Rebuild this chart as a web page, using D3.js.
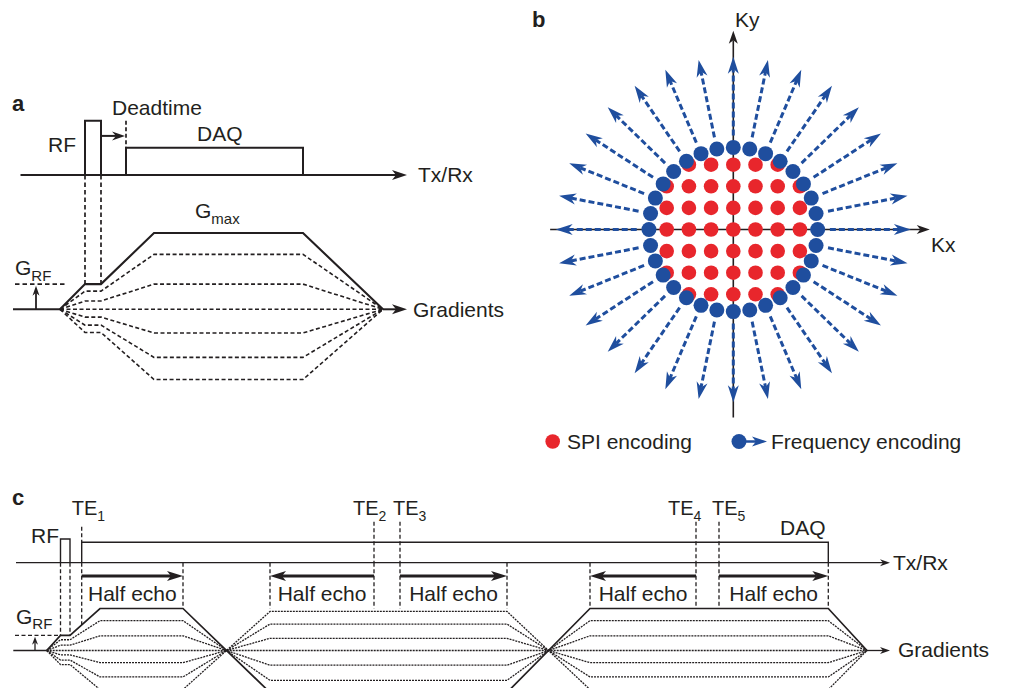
<!DOCTYPE html>
<head>
<meta charset="utf-8">
<style>
  body { margin: 0; background: #fff; }
  svg { display: block; font-family: "Liberation Sans", Arial, Helvetica, sans-serif; }
  text { fill: #231f20; font-size: 21px; }
  text.panel { font-weight: bold; font-size: 22px; }
</style>
</head>
<body>
<script src="https://d3js.org/d3.v7.min.js"></script>
<script>
var width = 1011, height = 688;
var ink = "#231f20", red = "#e8262c", blue = "#1f4e9e";

// ---- panel a: single echo sequence (time in arbitrary units, amplitude relative to Gmax)
var aLevels = [1, 0.72, 0.33, 0, -0.31, -0.63, -0.92];
var aGradT = [0, 25, 41, 94, 243, 323];
var aGradAmp = [0, 0.33, 0.33, 1, 1, 0];
var aRF = [25, 41];
var aDAQ = [66, 243];
var aDeadtime = [41, 65];

// ---- panel b: k-space (grid units)
var spiGrid = [
  [3, [-2, -1, 0, 1, 2]],
  [2, [-3, -2, -1, 0, 1, 2, 3]],
  [1, [-3, -2, -1, 0, 1, 2, 3]],
  [0, [-3, -2, -1, 0, 1, 2, 3]],
  [-1, [-3, -2, -1, 0, 1, 2, 3]],
  [-2, [-3, -2, -1, 0, 1, 2, 3]],
  [-3, [-2, -1, 0, 1, 2]]
];
var spokeAngles = [0, 11.25, 22.5, 33.75, 45, 56.25, 67.5, 78.75, 90, 101.25, 112.5, 123.75,
  135, 146.25, 157.5, 168.75, 180, 191.25, 202.5, 213.75, 225, 236.25, 247.5, 258.75,
  270, 281.25, 292.5, 303.75, 315, 326.25, 337.5, 348.75];
var ringRadius = 3.8, spokeStart = 4.35, spokeEnd = 8;

// ---- panel c: multi-echo sequence
var cLevels = [1, 0.71, 0.35, 0, -0.29, -0.63, -0.93];
var cGradT = [0, 13.8, 23.3, 53.3, 136.3, 223.3, 460.3, 543.3, 781.6, 820.3];
var cGradAmp = [0, 0.36, 0.36, 1, 1, -1, -1, 1, 1, 0];
var cRF = [13.8, 23.3];
var cDAQ = [35, 781.6];
var teTimes = [35, 327.3, 353.3, 649.3, 672.3];
var teNames = ["1", "2", "3", "4", "5"];
var teLabelDx = [-10, -21, -7, -28, -7];
var halfEcho = [[35, 136.3], [327.3, 223.3], [353.3, 460.3], [649.3, 543.3], [672.3, 781.6]];
var cEdges = [136.3, 223.3, 460.3, 543.3, 781.6];

var svg = d3.select("body").append("svg").attr("width", width).attr("height", height);

function arrow(g, x1, y1, x2, y2, o) {
  var len = o.len, hw = o.hw, notch = o.notch;
  var a = Math.atan2(y2 - y1, x2 - x1);
  var back = len - notch;
  g.append("line")
    .attr("x1", x1).attr("y1", y1)
    .attr("x2", x2 - Math.cos(a) * back).attr("y2", y2 - Math.sin(a) * back)
    .attr("stroke", o.color).attr("stroke-width", o.width)
    .attr("stroke-dasharray", o.dash || null);
  g.append("path")
    .attr("d", "M0,0L" + (-len) + "," + (-hw) + "L" + (-len + notch) + ",0L" + (-len) + "," + hw + "Z")
    .attr("transform", "translate(" + x2 + "," + y2 + ") rotate(" + (a * 180 / Math.PI) + ")")
    .attr("fill", o.color);
}

function subText(g, x, y, main, sub, size, subSize) {
  var t = g.append("text").attr("x", x).attr("y", y).style("font-size", size + "px");
  t.append("tspan").text(main);
  t.append("tspan").attr("dy", size * 0.28).style("font-size", subSize + "px").text(sub);
  return t;
}

function vline(g, x, y1, y2, dash, w) {
  g.append("line").attr("x1", x).attr("x2", x).attr("y1", y1).attr("y2", y2)
    .attr("stroke", ink).attr("stroke-width", w).attr("stroke-dasharray", dash);
}

// ================= panel a =================
var ga = svg.append("g");
var xA = d3.scaleLinear().domain([0, 323]).range([60, 383]);
var yA = d3.scaleLinear().domain([0, 1]).range([309.3, 233]);
var txA = d3.scaleLinear().domain([0, 1]).range([175, 120.7]);
var ampA = d3.scaleLinear().domain(aGradT).range(aGradAmp);

ga.append("text").attr("class", "panel").attr("x", 12).attr("y", 111).text("a");

// Tx/Rx axis
arrow(ga, xA(-39.5), txA(0), xA(347), txA(0), {len: 15, hw: 5, notch: 4, color: ink, width: 2});
ga.append("text").attr("x", 418).attr("y", 182).text("Tx/Rx");

// RF pulse and DAQ window
ga.append("path")
  .attr("d", "M" + xA(aRF[0]) + "," + txA(0) + "V" + txA(1) + "H" + xA(aRF[1]) + "V" + txA(0))
  .attr("fill", "none").attr("stroke", ink).attr("stroke-width", 2);
ga.append("path")
  .attr("d", "M" + xA(aDAQ[0]) + "," + txA(0) + "V" + txA(0.5) + "H" + xA(aDAQ[1]) + "V" + txA(0))
  .attr("fill", "none").attr("stroke", ink).attr("stroke-width", 2);
ga.append("text").attr("x", 48).attr("y", 152).text("RF");
ga.append("text").attr("x", 197).attr("y", 141).text("DAQ");

// Deadtime
vline(ga, xA(aDAQ[0]), txA(1), txA(0.5), "4,2.5", 1.7);
arrow(ga, xA(aDeadtime[0]), txA(0.72), xA(aDeadtime[1]), txA(0.72), {len: 13, hw: 4.5, notch: 4, color: ink, width: 2});
ga.append("text").attr("x", 112).attr("y", 115).text("Deadtime");

// RF edges down to gradient
aRF.forEach(function (t) { vline(ga, xA(t), txA(0), yA(ampA(t)), "4.5,3", 1.7); });

// gradient baseline + arrow
ga.append("line").attr("x1", xA(-47)).attr("x2", xA(0)).attr("y1", yA(0)).attr("y2", yA(0))
  .attr("stroke", ink).attr("stroke-width", 2);
arrow(ga, xA(323), yA(0), xA(347), yA(0), {len: 15, hw: 5, notch: 4, color: ink, width: 2});
ga.append("text").attr("x", 413).attr("y", 317).text("Gradients");

// G_RF marker
ga.append("line").attr("x1", xA(-45)).attr("x2", xA(6)).attr("y1", yA(aGradAmp[1])).attr("y2", yA(aGradAmp[1]))
  .attr("stroke", ink).attr("stroke-width", 1.7).attr("stroke-dasharray", "4.5,3");
arrow(ga, xA(-24), yA(0), xA(-24), yA(0.31), {len: 10, hw: 3.5, notch: 3, color: ink, width: 1.8});
subText(ga, 15, 275, "G", "RF", 21, 15);
subText(ga, 195, 218, "G", "max", 21, 15);

var lineA = d3.line().x(function (d) { return xA(d[0]); }).y(function (d) { return yA(d[1]); });
aLevels.slice().reverse().forEach(function (lv) {
  ga.append("path")
    .attr("d", lineA(aGradT.map(function (t, i) { return [t, aGradAmp[i] * lv]; })))
    .attr("fill", "none").attr("stroke", ink)
    .attr("stroke-width", lv === 1 ? 2.1 : 1.6)
    .attr("stroke-dasharray", lv === 1 ? null : "4,2.5");
});

// ================= panel b =================
var gb = svg.append("g");
var kx = d3.scaleLinear().domain([-1, 1]).range([733.3 - 22.2, 733.3 + 22.2]);
var ky = d3.scaleLinear().domain([-1, 1]).range([229.5 + 21.6, 229.5 - 21.6]);

gb.append("text").attr("class", "panel").attr("x", 532).attr("y", 27).text("b");

arrow(gb, kx(-8.25), ky(0), kx(8.85), ky(0), {len: 13, hw: 4.5, notch: 3.5, color: ink, width: 1.6});
arrow(gb, kx(0), ky(-8.7), kx(0), ky(9.2), {len: 13, hw: 4.5, notch: 3.5, color: ink, width: 1.6});
gb.append("text").attr("x", 735).attr("y", 27).text("Ky");
gb.append("text").attr("x", 931).attr("y", 252).text("Kx");

// SPI points
var spiPts = [];
spiGrid.forEach(function (row) { row[1].forEach(function (c) { spiPts.push([c, row[0]]); }); });
gb.selectAll("circle.spi").data(spiPts).enter().append("circle")
  .attr("class", "spi")
  .attr("cx", function (d) { return kx(d[0]); })
  .attr("cy", function (d) { return ky(d[1]); })
  .attr("r", 7.3).attr("fill", red);

// spokes
spokeAngles.forEach(function (deg) {
  var a = deg * Math.PI / 180;
  arrow(gb, kx(spokeStart * Math.cos(a)), ky(spokeStart * Math.sin(a)),
    kx(spokeEnd * Math.cos(a)), ky(spokeEnd * Math.sin(a)),
    {len: 17, hw: 5.5, notch: 5, color: blue, width: 3, dash: "6,3"});
});
gb.selectAll("circle.fe").data(spokeAngles).enter().append("circle")
  .attr("class", "fe")
  .attr("cx", function (d) { return kx(ringRadius * Math.cos(d * Math.PI / 180)); })
  .attr("cy", function (d) { return ky(ringRadius * Math.sin(d * Math.PI / 180)); })
  .attr("r", 7.5).attr("fill", blue);

// legend
gb.append("circle").attr("cx", 552.7).attr("cy", 441.5).attr("r", 7.3).attr("fill", red);
gb.append("text").attr("x", 567).attr("y", 448.5).text("SPI encoding");
gb.append("circle").attr("cx", 739).attr("cy", 441.5).attr("r", 7.5).attr("fill", blue);
arrow(gb, 745, 441.5, 767, 441.5, {len: 15, hw: 5, notch: 4, color: blue, width: 2.5});
gb.append("text").attr("x", 771).attr("y", 448.5).text("Frequency encoding");

// ================= panel c =================
var gc = svg.append("g");
var xC = d3.scaleLinear().domain([0, 820.3]).range([46.7, 867]);
var yC = d3.scaleLinear().domain([0, 1]).range([650.5, 608.5]);
var txC = d3.scaleLinear().domain([0, 1]).range([562.7, 539]);
var ampC = d3.scaleLinear().domain(cGradT).range(cGradAmp);

gc.append("text").attr("class", "panel").attr("x", 12).attr("y", 505).text("c");

arrow(gc, xC(-30.7), txC(0), xC(843.3), txC(0), {len: 10, hw: 3.5, notch: 3, color: ink, width: 1.3});
gc.append("text").attr("x", 893).attr("y", 570).text("Tx/Rx");

gc.append("path")
  .attr("d", "M" + xC(cRF[0]) + "," + txC(0) + "V" + txC(1) + "H" + xC(cRF[1]) + "V" + txC(0))
  .attr("fill", "none").attr("stroke", ink).attr("stroke-width", 1.4);
gc.append("path")
  .attr("d", "M" + xC(cDAQ[0]) + "," + txC(0) + "V" + txC(0.86) + "H" + xC(cDAQ[1]) + "V" + txC(0))
  .attr("fill", "none").attr("stroke", ink).attr("stroke-width", 1.4);
gc.append("text").attr("x", 31).attr("y", 543).text("RF");
gc.append("text").attr("x", 780).attr("y", 535).text("DAQ");

// RF edges and half echo window edges
cRF.forEach(function (t) { vline(gc, xC(t), txC(0), yC(Math.abs(ampC(t))), "4,2.5", 1.3); });
cEdges.forEach(function (t) { vline(gc, xC(t), txC(0), yC(Math.abs(ampC(t))), "4,2.5", 1.3); });

// TE markers
teTimes.forEach(function (t, i) {
  var top = i === 0 ? 526.7 : 521.7;
  vline(gc, xC(t), top, i === 0 ? txC(0.86) : txC(0), "4,2.5", 1.3);
  vline(gc, xC(t), txC(0), yC(Math.abs(ampC(t))), "4,2.5", 1.3);
  subText(gc, xC(t) + teLabelDx[i], 515, "TE", teNames[i], 20, 14);
});

// half echo arrows
halfEcho.forEach(function (h) {
  arrow(gc, xC(h[0]), 576, xC(h[1]), 576, {len: 16, hw: 5, notch: 4, color: ink, width: 3});
  gc.append("text").attr("x", (xC(h[0]) + xC(h[1])) / 2).attr("y", 601)
    .attr("text-anchor", "middle").text("Half echo");
});

// gradient baseline, G_RF
gc.append("line").attr("x1", xC(-33.4)).attr("x2", xC(0)).attr("y1", yC(0)).attr("y2", yC(0))
  .attr("stroke", ink).attr("stroke-width", 1.4);
arrow(gc, xC(820.3), yC(0), xC(843.3), yC(0), {len: 10, hw: 3.5, notch: 3, color: ink, width: 1.3});
gc.append("text").attr("x", 898).attr("y", 657).text("Gradients");
gc.append("line").attr("x1", xC(-31.7)).attr("x2", xC(13.8)).attr("y1", yC(cGradAmp[1])).attr("y2", yC(cGradAmp[1]))
  .attr("stroke", ink).attr("stroke-width", 1.3).attr("stroke-dasharray", "4,2.5");
arrow(gc, xC(-11.7), yC(0), xC(-11.7), yC(0.33), {len: 8, hw: 3, notch: 2.5, color: ink, width: 1.3});
subText(gc, 16, 623.5, "G", "RF", 21, 15);

var lineC = d3.line().x(function (d) { return xC(d[0]); }).y(function (d) { return yC(d[1]); });
cLevels.slice().reverse().forEach(function (lv) {
  gc.append("path")
    .attr("d", lineC(cGradT.map(function (t, i) { return [t, cGradAmp[i] * lv]; })))
    .attr("fill", "none").attr("stroke", ink)
    .attr("stroke-width", lv === 1 ? 1.7 : 1.3)
    .attr("stroke-dasharray", lv === 1 ? null : "2,1");
});
</script>
</body>
</html>
